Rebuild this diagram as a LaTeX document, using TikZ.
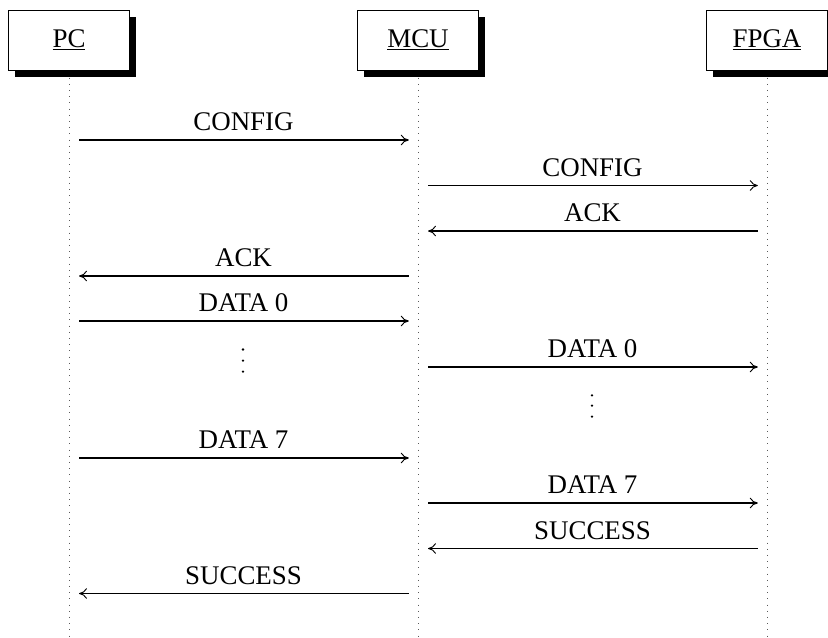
\documentclass[tikz,border=0pt]{standalone}
\usepackage{fontspec}
\setmainfont{Liberation Serif}
\usetikzlibrary{shadows,arrows.meta}
\begin{document}
\begin{tikzpicture}[x=0.75pt,y=-0.75pt,
  font=\fontsize{20.2}{24}\selectfont,
  actor/.style={draw, line width=0.75pt, fill=white, minimum width=90.5pt, minimum height=45pt, inner sep=0pt,
    drop shadow={shadow xshift=4.8pt, shadow yshift=-5pt, fill=black, opacity=1}},
  lifeline/.style={line width=0.6pt, dash pattern=on 0.6pt off 4.05pt, black!65},
  tip/.style={-{To[length=6pt,width=8pt,line width=0.7pt]}},
  msg/.style={tip, line width=0.8pt, shorten <=7.5pt, shorten >=6.9pt},
  msgl/.style={tip, line width=0.8pt, shorten <=6.9pt, shorten >=7.5pt},
  lbl/.style={midway, anchor=base, yshift=7.1pt, inner sep=0pt},
  dotv/.style={fill=black, radius=0.95pt}]
\useasboundingbox (0,0) rectangle (828,637);
\node[actor] (pc) at (69,40) {};
\node[actor] (mcu) at (418,40) {};
\node[actor] (fpga) at (767,40) {};
\node[anchor=base, inner sep=0pt] (pct) at (69,47) {\underline{PC}};
\node[anchor=base, inner sep=0pt] (mcut) at (418,47) {\underline{MCU}};
\node[anchor=base, inner sep=0pt] (fpgat) at (767,47) {\underline{FPGA}};
\draw[lifeline] ([yshift=-5.3pt]pc.south) -- (pc |- 0,637);
\draw[lifeline] ([yshift=-5.3pt]mcu.south) -- (mcu |- 0,637);
\draw[lifeline] ([yshift=-5.3pt]fpga.south) -- (fpga |- 0,637);
\draw[msg] (pc |- 0,140) -- (mcu |- 0,140) node[lbl] {CONFIG};
\draw[msg] (mcu |- 0,185.5) -- (fpga |- 0,185.5) node[lbl] {CONFIG};
\draw[msgl] (fpga |- 0,231) -- (mcu |- 0,231) node[lbl] {ACK};
\draw[msgl] (mcu |- 0,276) -- (pc |- 0,276) node[lbl] {ACK};
\draw[msg] (pc |- 0,321) -- (mcu |- 0,321) node[lbl] {DATA 0};
\draw[msg] (mcu |- 0,367) -- (fpga |- 0,367) node[lbl] {DATA 0};
\draw[msg] (pc |- 0,458) -- (mcu |- 0,458) node[lbl] {DATA 7};
\draw[msg] (mcu |- 0,503) -- (fpga |- 0,503) node[lbl] {DATA 7};
\draw[msgl] (fpga |- 0,548.5) -- (mcu |- 0,548.5) node[lbl] {SUCCESS};
\draw[msgl] (mcu |- 0,593.5) -- (pc |- 0,593.5) node[lbl] {SUCCESS};
\fill[dotv] (243,349.5) circle;
\fill[dotv] (243,360.7) circle;
\fill[dotv] (243,371.7) circle;
\fill[dotv] (592,395.3) circle;
\fill[dotv] (592,405.7) circle;
\fill[dotv] (592,416.7) circle;
\end{tikzpicture}
\end{document}
